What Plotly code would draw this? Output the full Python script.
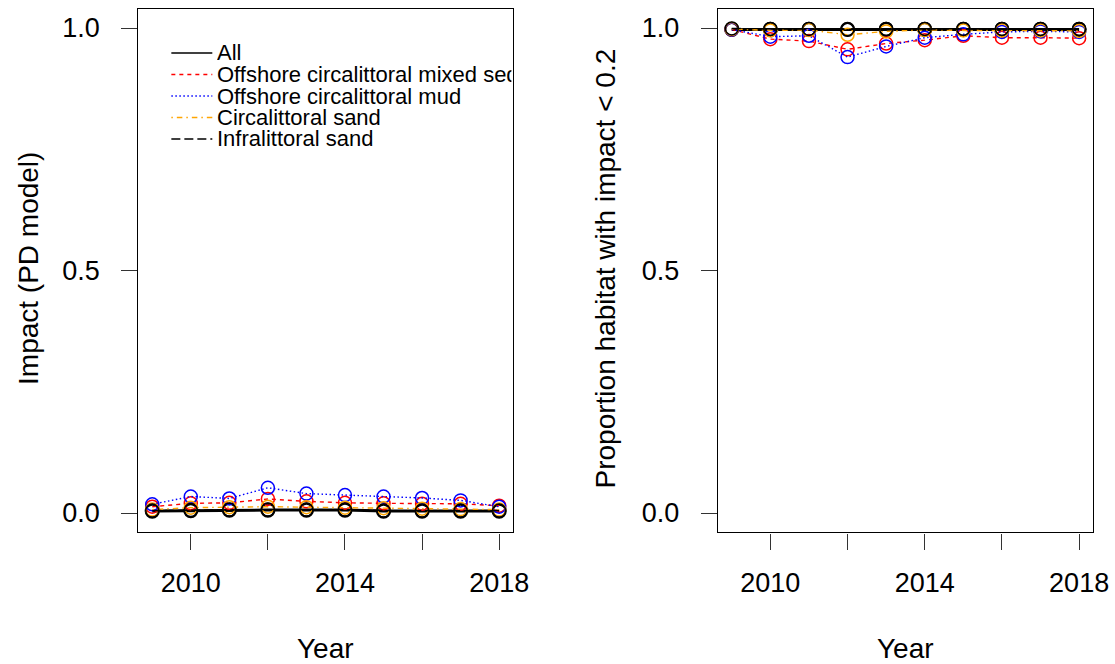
import plotly.graph_objects as go

W, H = 1130, 664   # page is captured ~15 px wider than the target, then resized to 1115
REF_W = 1115

years = [2009, 2010, 2011, 2012, 2013, 2014, 2015, 2016, 2017, 2018]
habitats = ["All", "Offshore circalittoral mixed sediment", "Offshore circalittoral mud",
            "Circalittoral sand", "Infralittoral sand"]

# Left panel: Impact (PD model)
impact_all = [0.004, 0.005, 0.006, 0.006, 0.006, 0.006, 0.004, 0.004, 0.004, 0.004]
impact_mixed = [0.013, 0.020, 0.021, 0.029, 0.024, 0.021, 0.020, 0.019, 0.019, 0.015]
impact_mud = [0.018, 0.034, 0.030, 0.052, 0.040, 0.037, 0.034, 0.031, 0.026, 0.013]
impact_circ_sand = [0.007, 0.011, 0.012, 0.013, 0.012, 0.011, 0.010, 0.009, 0.008, 0.007]
impact_infra_sand = [0.005, 0.006, 0.007, 0.007, 0.007, 0.007, 0.005, 0.005, 0.005, 0.005]

# Right panel: proportion of habitat with impact < 0.2
prop_all = [0.997, 0.997, 0.997, 0.997, 0.997, 0.997, 0.997, 0.997, 0.997, 0.997]
prop_mixed = [0.997, 0.977, 0.973, 0.956, 0.968, 0.975, 0.984, 0.980, 0.980, 0.979]
prop_mud = [0.997, 0.982, 0.984, 0.940, 0.962, 0.980, 0.987, 0.992, 0.993, 0.992]
prop_circ_sand = [0.998, 0.995, 0.996, 0.986, 0.993, 0.996, 0.995, 0.995, 0.995, 0.994]
prop_infra_sand = [0.999, 0.998, 0.998, 0.997, 0.998, 0.998, 0.998, 0.998, 0.998, 0.998]

x_ticks = [2010, 2012, 2014, 2016, 2018]
x_tick_text = ["2010", "", "2014", "", "2018"]
y_ticks = [0.0, 0.5, 1.0]
y_tick_text = ["0.0", "0.5", "1.0"]

colors = ["#000000", "#FF0000", "#0000FF", "#FFA500", "#000000"]
dashes = ["solid", "4px,4px", "1.5px,2.5px", "1.5px,4px,5.5px,4px", "9px,4px"]
widths = [3.0, 1.4, 1.4, 1.4, 1.4]
mwidths = [2.2, 1.5, 1.5, 1.5, 1.5]

FONT = "Liberation Sans, Arial, sans-serif"

left_series = [impact_all, impact_mixed, impact_mud, impact_circ_sand, impact_infra_sand]
right_series = [prop_all, prop_mixed, prop_mud, prop_circ_sand, prop_infra_sand]

fig = go.Figure()
for xa, ya, series in [("x", "y", left_series), ("x2", "y2", right_series)]:
    for i, vals in enumerate(series):
        fig.add_trace(go.Scatter(
            x=years, y=vals, xaxis=xa, yaxis=ya, mode="lines+markers",
            name=habitats[i], showlegend=False,
            line=dict(color=colors[i], width=widths[i], dash=dashes[i]),
            marker=dict(symbol="circle-open", size=13, color=colors[i],
                        line=dict(width=mwidths[i], color=colors[i])),
            cliponaxis=False,
        ))

def fx(p):
    return p / REF_W

def fy(p):
    return 1 - p / H

box_top, box_bot = 8.6, 532.4
left_box = (138.5, 513.5)
right_box = (718.5, 1094.0)

axis_common = dict(
    showline=True, mirror=True, linecolor="black", linewidth=1.3,
    ticks="outside", ticklen=16, tickwidth=1.3, tickcolor="#333333",
    showgrid=False, zeroline=False,
    tickfont=dict(family=FONT, size=27, color="black"),
)

fig.update_layout(
    width=W, height=H, autosize=False,
    margin=dict(l=0, r=0, t=0, b=0),
    paper_bgcolor="white", plot_bgcolor="white",
    xaxis=dict(domain=[fx(left_box[0]), fx(left_box[1])], range=[2008.64, 2018.36],
               tickvals=x_ticks, ticktext=x_tick_text, anchor="y",
               ticklabelstandoff=10, **axis_common),
    yaxis=dict(domain=[fy(box_bot), fy(box_top)], range=[-0.04, 1.04],
               tickvals=y_ticks, ticktext=y_tick_text, anchor="x",
               ticklabelstandoff=16, **axis_common),
    xaxis2=dict(domain=[fx(right_box[0]), fx(right_box[1])], range=[2008.64, 2018.36],
                tickvals=x_ticks, ticktext=x_tick_text, anchor="y2",
                ticklabelstandoff=10, **axis_common),
    yaxis2=dict(domain=[fy(box_bot), fy(box_top)], range=[-0.04, 1.04],
                tickvals=y_ticks, ticktext=y_tick_text, anchor="x2",
                ticklabelstandoff=16, **axis_common),
)

annotations = []
# Axis titles
for cx in [(left_box[0] + left_box[1]) / 2, (right_box[0] + right_box[1]) / 2]:
    annotations.append(dict(text="Year", x=fx(cx), y=fy(648), xref="paper", yref="paper",
                            showarrow=False, xanchor="center", yanchor="middle",
                            font=dict(family=FONT, size=28, color="black")))
annotations.append(dict(text="Impact (PD model)", x=fx(28), y=fy(268),
                        xref="paper", yref="paper", showarrow=False, textangle=-90,
                        xanchor="center", yanchor="middle",
                        font=dict(family=FONT, size=28, color="black")))
annotations.append(dict(text="Proportion habitat with impact < 0.2", x=fx(606),
                        y=fy(268),
                        xref="paper", yref="paper", showarrow=False, textangle=-90,
                        xanchor="center", yanchor="middle",
                        font=dict(family=FONT, size=28, color="black")))

# Legend (no box, clipped at plot edge)
shapes = []
leg_y0, leg_dy = 53, 21.5
for i, name in enumerate(habitats):
    yy = leg_y0 + i * leg_dy
    shapes.append(dict(type="line", xref="paper", yref="paper",
                       x0=fx(171.5), x1=fx(212.5), y0=fy(yy), y1=fy(yy),
                       line=dict(color=colors[i], width=1.4, dash=dashes[i])))
    annotations.append(dict(text=name, x=fx(216), y=fy(yy), xref="paper", yref="paper",
                            showarrow=False, xanchor="left", yanchor="middle",
                            align="left", width=(left_box[1] - 216 - 7) * W / REF_W,
                            borderpad=0,
                            font=dict(family=FONT, size=22, color="black")))

fig.update_layout(annotations=annotations, shapes=shapes)
fig.write_html(
    "out.html",
    config={"displayModeBar": False, "responsive": False},
    post_script=("document.documentElement.style.margin='0';"
                 "document.documentElement.style.overflow='hidden';"
                 "document.body.style.margin='0';"
                 "document.body.style.overflow='hidden';"),
)
